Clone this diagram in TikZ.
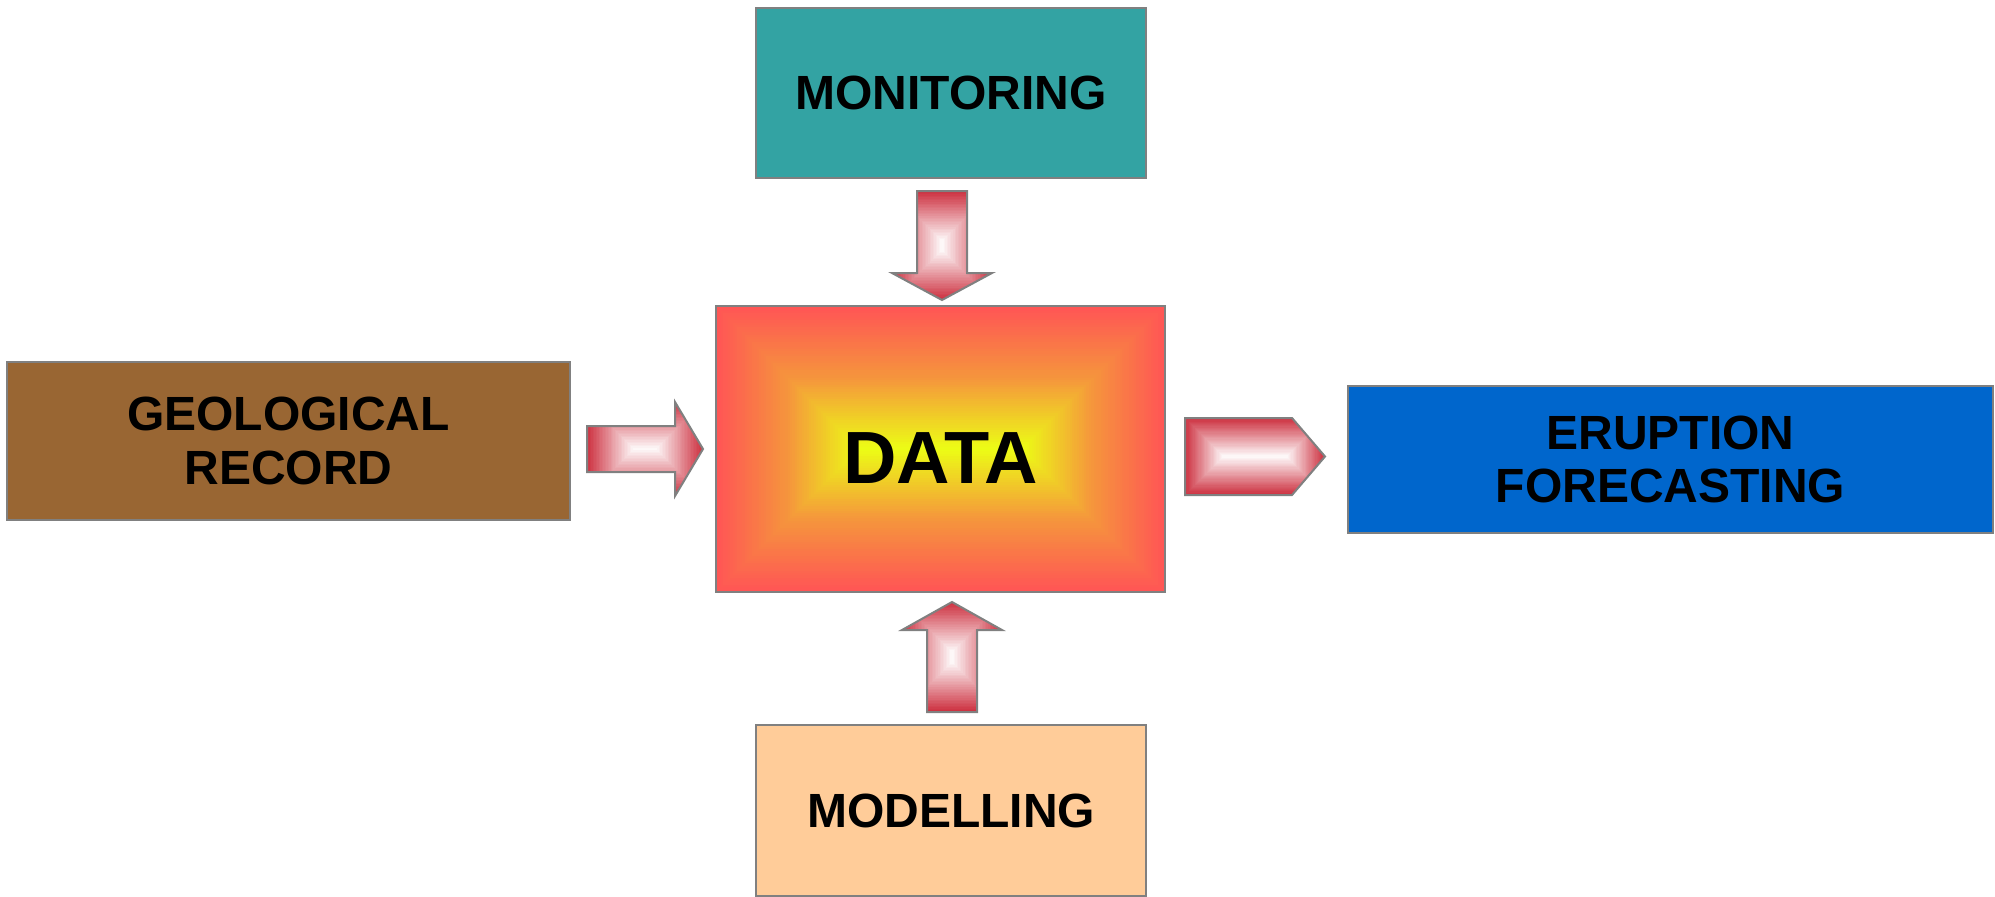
\documentclass[tikz,border=0pt]{standalone}
\usepackage{fontspec}
\setmainfont{Liberation Sans}
\definecolor{edgegray}{RGB}{128,128,128}
\definecolor{monfill}{RGB}{51,163,163}
\definecolor{geofill}{RGB}{153,102,51}
\definecolor{erufill}{RGB}{0,102,204}
\definecolor{modfill}{RGB}{255,204,153}
\definecolor{dred}{RGB}{255,85,85}
\definecolor{dorange}{RGB}{245,150,60}
\definecolor{dyellow}{RGB}{236,255,20}
\definecolor{ared}{RGB}{205,50,65}

% concentric rectangular bands from an outer colour to an inner colour
% #1,#2 = first corner, #3,#4 = opposite corner, #5 = outer, #6 = inner
\newcommand\bandrect[6]{%
  \pgfmathsetmacro\bandhalf{min(abs(#4-#2),abs(#3-#1))/2}%
  \foreach \i in {0,...,32}{%
    \pgfmathsetmacro\dd{\bandhalf*\i/32}%
    \pgfmathtruncatemacro\pp{100*\i/32}%
    \fill[#6!\pp!#5] ({#1+\dd},{#2+\dd}) rectangle ({#3-\dd},{#4-\dd});
  }%
}

% block arrow: #1 outline path, #2..#5 bounding box
\newcommand\blockarrow[5]{%
  \begin{scope}
    \clip #1;
    \bandrect{#2}{#3}{#4}{#5}{ared}{white}
  \end{scope}
  \draw[arrowedge] #1;
}

\tikzset{
  box/.style={draw=edgegray, line width=2pt, inner sep=0pt,
    font=\fontsize{48}{53.5}\selectfont\bfseries, align=center, text=black},
  arrowedge/.style={draw=edgegray, line width=2pt, line join=miter},
}

\begin{document}
\begin{tikzpicture}[x=1pt,y=-1pt]
\useasboundingbox (0,0) rectangle (1995,897);
\fill[white] (0,0) rectangle (1995,897);

% outer boxes
\node[box, fill=monfill, minimum width=390pt, minimum height=170pt] (mon) at (951,93) {MONITORING};
\node[box, fill=geofill, minimum width=563pt, minimum height=158pt] (geo) at (288.5,441) {GEOLOGICAL\\RECORD};
\node[box, fill=erufill, minimum width=645pt, minimum height=147pt] (eru) at (1670.5,459.5) {ERUPTION\\FORECASTING};
\node[box, fill=modfill, minimum width=390pt, minimum height=171pt] (mod) at (951,810.5) {MODELLING};

% central DATA box with red-orange-yellow bands
\node[minimum width=449pt, minimum height=286pt, inner sep=0pt] (data) at (940.5,449) {};
\foreach \i in {0,...,60}{
  \pgfmathsetmacro\dd{143*\i/60}
  \pgfmathtruncatemacro\pa{min(100,100*\i/30)}
  \pgfmathtruncatemacro\pb{max(0,100*(\i-30)/30)}
  \colorlet{bandc}{dorange!\pa!dred}
  \fill[dyellow!\pb!bandc] ({716+\dd},{306+\dd}) rectangle ({1165-\dd},{592-\dd});
}
\draw[draw=edgegray, line width=2pt] (data.north west) rectangle (data.south east);
\node[font=\fontsize{74}{80}\selectfont\bfseries, inner sep=0pt] (datatext) at (940.5,458.3) {DATA};

% block arrows
\blockarrow{(917,191) -- (967,191) -- (967,273) -- (992,273) -- (942,300) -- (892,273) -- (917,273) -- cycle}{892}{191}{992}{300}
\blockarrow{(927,712) -- (977,712) -- (977,630) -- (1002,630) -- (952,602) -- (902,630) -- (927,630) -- cycle}{902}{602}{1002}{712}
\blockarrow{(587,426) -- (675,426) -- (675,402) -- (703,449) -- (675,496) -- (675,472) -- (587,472) -- cycle}{587}{402}{703}{496}
\blockarrow{(1185,418) -- (1292,418) -- (1325,456.5) -- (1292,495) -- (1185,495) -- cycle}{1185}{418}{1325}{495}
\end{tikzpicture}
\end{document}
